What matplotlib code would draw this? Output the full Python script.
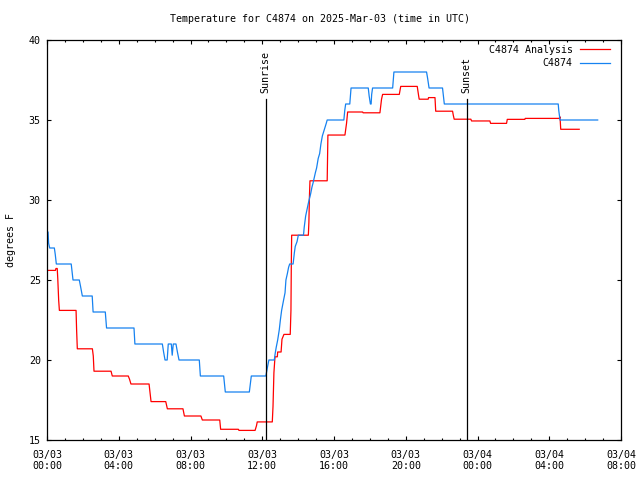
import pandas as pd
import numpy as np
import matplotlib
matplotlib.use("Agg")
import matplotlib.pyplot as plt
import matplotlib.dates as mdates

# hours after 2025-03-03 00:00 UTC, temperature in F
obs_hours = [0.0, 0.06, 0.09, 0.15, 0.41, 0.46, 0.52, 1.35, 1.45, 1.8, 1.87, 1.97,
             2.52, 2.57, 3.25, 3.32, 4.85, 4.9, 6.43, 6.5, 6.58, 6.7, 6.76, 6.93,
             6.98, 7.04, 7.19, 7.27, 7.36, 8.49, 8.55, 9.85, 9.94, 11.28, 11.39,
             12.2, 12.3, 12.37, 12.67, 12.72, 12.78, 12.86, 12.95, 13.01, 13.08,
             13.19, 13.27, 13.32, 13.4, 13.47, 13.53, 13.72, 13.79, 13.84, 13.94,
             14.01, 14.3, 14.34, 14.42, 14.57, 14.7, 14.77, 14.84, 14.96, 15.03,
             15.12, 15.2, 15.27, 15.35, 15.46, 15.57, 15.62, 16.55, 16.6, 16.65,
             16.88, 16.95, 17.91, 17.96, 18.03, 18.07, 18.1, 18.15, 19.27, 19.34,
             21.16, 21.22, 21.3, 22.05, 22.1, 22.15, 28.5, 28.53, 28.6, 30.7]
obs_temp = [28.0, 28.0, 27.3, 27.0, 27.0, 26.6, 26.0, 26.0, 25.0, 25.0, 24.6, 24.0,
            24.0, 23.0, 23.0, 22.0, 22.0, 21.0, 21.0, 20.5, 20.0, 20.0, 21.0, 21.0,
            20.3, 21.0, 21.0, 20.5, 20.0, 20.0, 19.0, 19.0, 18.0, 18.0, 19.0,
            19.0, 19.6, 20.0, 20.0, 20.4, 20.8, 21.25, 21.9, 22.5, 23.1,
            23.75, 24.2, 25.0, 25.4, 25.8, 26.0, 26.0, 26.7, 27.1, 27.4,
            27.8, 27.8, 28.3, 29.0, 29.8, 30.4, 30.8, 31.1, 31.7, 32.0,
            32.6, 32.9, 33.5, 34.0, 34.4, 34.8, 35.0, 35.0, 35.6, 36.0,
            36.0, 37.0, 37.0, 36.5, 36.0, 36.0, 36.6, 37.0, 37.0, 38.0,
            38.0, 37.6, 37.0, 37.0, 36.5, 36.0, 36.0, 35.6, 35.0, 35.0]

ana_hours = [0.0, 0.47, 0.5, 0.57, 0.6, 0.65, 0.69, 1.62, 1.65, 1.69, 2.53, 2.58,
             2.62, 3.57, 3.64, 4.53, 4.6, 4.68, 5.69, 5.75, 5.8, 6.62, 6.71, 7.58,
             7.66, 8.58, 8.66, 9.63, 9.68, 10.67, 10.7, 11.6, 11.68, 11.72, 12.56,
             12.6, 12.65, 12.71, 12.84, 12.86, 13.05, 13.1, 13.21, 13.56, 13.6,
             13.62, 13.64, 14.57, 14.6, 14.63, 14.66, 15.62, 15.64, 15.66, 16.61,
             16.7, 16.76, 17.6, 17.62, 18.56, 18.65, 18.71, 19.64, 19.72, 20.64,
             20.72, 20.75, 21.25, 21.27, 21.63, 21.67, 22.61, 22.65, 22.7, 23.63,
             23.67, 24.69, 24.73, 25.62, 25.66, 26.64, 26.66, 28.55, 28.6, 28.64,
             29.67]
ana_temp = [25.6, 25.6, 25.72, 25.72, 25.1, 23.75, 23.1, 23.1, 21.9, 20.7, 20.7, 20.25,
            19.3, 19.3, 19.0, 19.0, 18.8, 18.5, 18.5, 17.9, 17.4, 17.4, 16.95, 16.95,
            16.5, 16.5, 16.25, 16.25, 15.67, 15.67, 15.6, 15.6, 15.9, 16.13, 16.13,
            17.1, 19.2, 20.2, 20.2, 20.5, 20.5, 21.3, 21.6, 21.6, 23.1,
            26.0, 27.8, 27.8, 28.6, 30.2, 31.2, 31.2, 32.6, 34.06, 34.06,
            34.8, 35.5, 35.5, 35.45, 35.45, 36.3, 36.6, 36.6, 37.1, 37.1,
            36.5, 36.3, 36.3, 36.4, 36.4, 35.55, 35.55, 35.3, 35.05, 35.05,
            34.94, 34.94, 34.79, 34.79, 35.04, 35.04, 35.1, 35.1, 35.2, 34.42,
            34.42]

sun_hours = [12.19, 23.39]
sun_labels = ["Sunrise", "Sunset"]

start = pd.Timestamp("2025-03-03 00:00")
obs_time = start + pd.to_timedelta(obs_hours, unit="h")
ana_time = start + pd.to_timedelta(ana_hours, unit="h")
sun_time = start + pd.to_timedelta(sun_hours, unit="h")

plt.rcParams["font.family"] = "DejaVu Sans Mono"
fs = 7.2

fig = plt.figure(figsize=(6.4, 4.8), dpi=100)
ax = fig.add_axes([47 / 640, 40 / 480, 574 / 640, 400 / 480])

ax.plot(ana_time, ana_temp, color="#ff0000", lw=0.9, label="C4874 Analysis")
ax.plot(obs_time, obs_temp, color="#1682f0", lw=0.9, label="C4874")

for t, lab in zip(sun_time, sun_labels):
    ax.axvline(t, ymin=0, ymax=0.8525, color="black", lw=0.9)
    ax.text(t, 0.8675, lab, transform=ax.get_xaxis_transform(), rotation=90,
            ha="center", va="bottom", fontsize=fs)

ax.set_xlim(start, start + pd.Timedelta(hours=32))
ax.set_ylim(15, 40)
ax.set_yticks(np.arange(15, 41, 5))
ax.xaxis.set_major_locator(mdates.HourLocator(byhour=range(0, 24, 4)))
ax.xaxis.set_minor_locator(mdates.HourLocator())
ax.xaxis.set_major_formatter(mdates.DateFormatter("%m/%d\n%H:%M"))

ax.tick_params(which="both", direction="in", top=True, right=True, labelsize=fs, width=0.8)
ax.tick_params(which="major", length=3.1)
ax.tick_params(which="minor", length=1.7)
ax.tick_params(axis="x", pad=7.5)
ax.tick_params(axis="y", pad=4.5)
for lab in ax.get_xticklabels():
    lab.set_linespacing(1.1)
for sp in ax.spines.values():
    sp.set_linewidth(0.9)

ax.set_ylabel("degrees F", fontsize=fs, labelpad=9)
fig.text(0.5, 1 - 19 / 480, "Temperature for C4874 on 2025-Mar-03 (time in UTC)",
         ha="center", va="center", fontsize=fs)

ax.legend(loc="upper right", bbox_to_anchor=(0.98, 0.988), frameon=False,
          markerfirst=False, fontsize=fs, handlelength=3.0, handletextpad=0.7,
          labelspacing=0.35, borderpad=0, borderaxespad=0)

fig.savefig("out.png", dpi=100)
